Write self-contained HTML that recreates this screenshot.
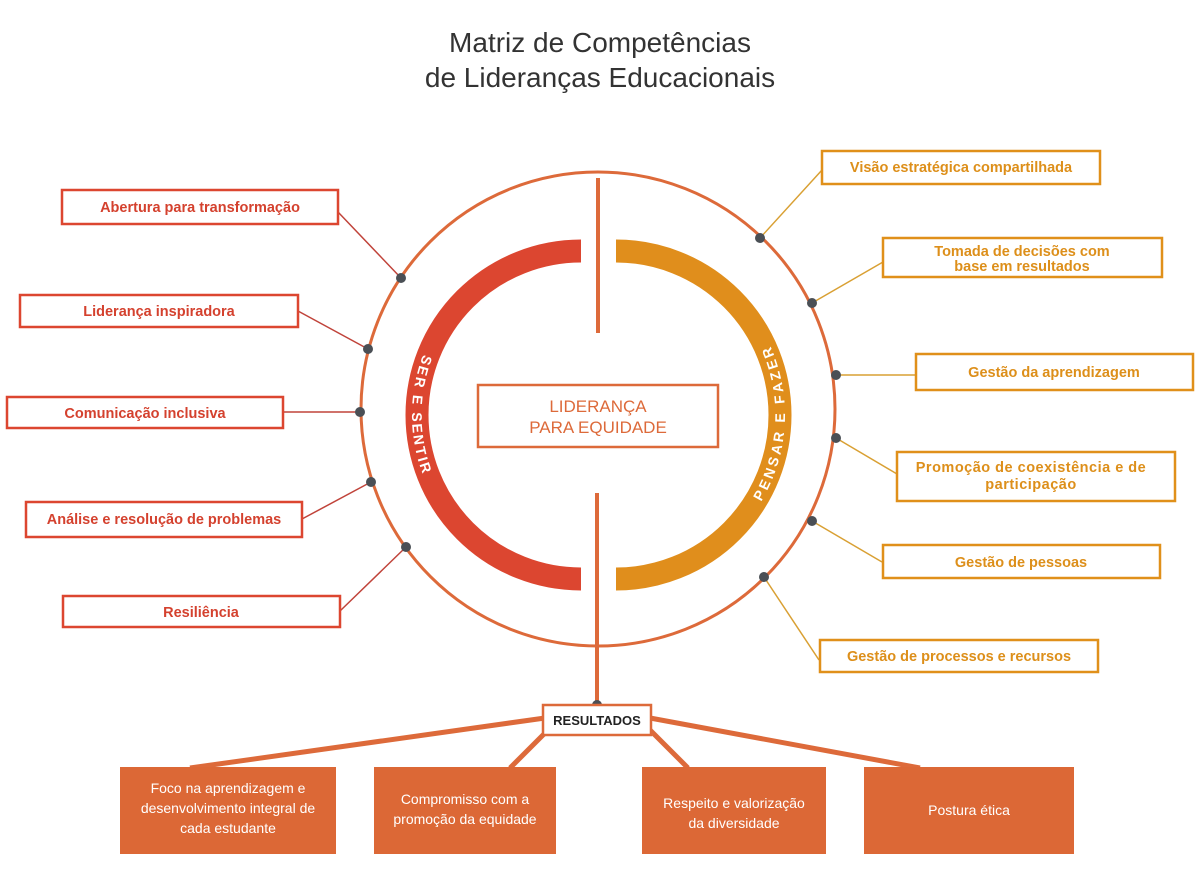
<!DOCTYPE html>
<html><head><meta charset="utf-8"><style>
html,body{margin:0;padding:0;background:#fff;}
svg{display:block;}
text{font-family:"Liberation Sans",sans-serif;}
</style></head><body>
<svg width="1200" height="875" viewBox="0 0 1200 875" xmlns="http://www.w3.org/2000/svg">
<text x="600" y="52" text-anchor="middle" font-size="28" fill="#333">Matriz de Competências</text>
<text x="600" y="87" text-anchor="middle" font-size="28" fill="#333">de Lideranças Educacionais</text>

<circle cx="598" cy="409" r="237" fill="none" stroke="#dd6a3a" stroke-width="3"/>
<line x1="598" y1="178" x2="598" y2="333" stroke="#dd6a3a" stroke-width="4"/>
<line x1="597" y1="493" x2="597" y2="705" stroke="#dd6a3a" stroke-width="4"/>

<!-- arcs -->
<path d="M581 251 A164 164 0 0 0 581 579" fill="none" stroke="#dc4630" stroke-width="23"/>
<path d="M616 251 A164 164 0 0 1 616 579" fill="none" stroke="#e08e1c" stroke-width="23"/>
<g font-size="14" font-weight="bold" fill="#fff" text-anchor="middle">
<text transform="translate(426.4,360.3) rotate(109.5)" y="5">S</text>
<text transform="translate(423.0,370.9) rotate(105.6)" y="5">E</text>
<text transform="translate(420.3,382.3) rotate(101.5)" y="5">R</text>
<text transform="translate(417.7,399.8) rotate(95.3)" y="5">E</text>
<text transform="translate(417.0,417.0) rotate(89.3)" y="5">S</text>
<text transform="translate(417.5,428.2) rotate(85.4)" y="5">E</text>
<text transform="translate(418.9,439.8) rotate(81.3)" y="5">N</text>
<text transform="translate(421.0,451.0) rotate(77.3)" y="5">T</text>
<text transform="translate(423.0,459.1) rotate(74.4)" y="5">I</text>
<text transform="translate(425.7,467.6) rotate(71.3)" y="5">R</text>

<text transform="translate(759.0,495.3) rotate(-60.7)" y="5">P</text>
<text transform="translate(764.5,484.6) rotate(-64.9)" y="5">E</text>
<text transform="translate(769.3,473.2) rotate(-69.2)" y="5">N</text>
<text transform="translate(773.2,461.6) rotate(-73.5)" y="5">S</text>
<text transform="translate(776.4,449.4) rotate(-77.9)" y="5">A</text>
<text transform="translate(778.5,437.0) rotate(-82.3)" y="5">R</text>
<text transform="translate(780.0,417.9) rotate(-89)" y="5">E</text>
<text transform="translate(779.3,399.6) rotate(-95.4)" y="5">F</text>
<text transform="translate(777.7,387.6) rotate(-99.6)" y="5">A</text>
<text transform="translate(775.3,375.9) rotate(-103.8)" y="5">Z</text>
<text transform="translate(772.1,364.6) rotate(-107.9)" y="5">E</text>
<text transform="translate(767.8,353.0) rotate(-112.2)" y="5">R</text>
</g>

<rect x="478" y="385" width="240" height="62" fill="#fff" stroke="#dd6a3a" stroke-width="2.5"/>
<text x="598" y="412" text-anchor="middle" font-size="17" fill="#dd6a3a">LIDERANÇA</text>
<text x="598" y="433" text-anchor="middle" font-size="17" fill="#dd6a3a">PARA EQUIDADE</text>

<!-- left connectors -->
<g stroke="#c0433a" stroke-width="1.5">
<line x1="338" y1="212" x2="401" y2="278"/>
<line x1="298" y1="311" x2="368" y2="349"/>
<line x1="283" y1="412" x2="360" y2="412"/>
<line x1="302" y1="519" x2="371" y2="482"/>
<line x1="340" y1="611" x2="406" y2="547"/>
</g>
<g stroke="#d9a033" stroke-width="1.5">
<line x1="822" y1="170" x2="760" y2="238"/>
<line x1="883" y1="262" x2="812" y2="303"/>
<line x1="916" y1="375" x2="836" y2="375"/>
<line x1="897" y1="474" x2="836" y2="438"/>
<line x1="882" y1="562" x2="812" y2="521"/>
<line x1="819" y1="660" x2="764" y2="577"/>
</g>
<g fill="#4a4f55">
<circle cx="401" cy="278" r="5"/><circle cx="368" cy="349" r="5"/><circle cx="360" cy="412" r="5"/><circle cx="371" cy="482" r="5"/><circle cx="406" cy="547" r="5"/>
<circle cx="760" cy="238" r="5"/><circle cx="812" cy="303" r="5"/><circle cx="836" cy="375" r="5"/><circle cx="836" cy="438" r="5"/><circle cx="812" cy="521" r="5"/><circle cx="764" cy="577" r="5"/>
<circle cx="597" cy="705" r="5"/>
</g>

<!-- left boxes -->
<g fill="#fff" stroke="#dc4630" stroke-width="2.5">
<rect x="62" y="190" width="276" height="34"/>
<rect x="20" y="295" width="278" height="32"/>
<rect x="7" y="397" width="276" height="31"/>
<rect x="26" y="502" width="276" height="35"/>
<rect x="63" y="596" width="277" height="31"/>
</g>
<g fill="#d4412e" font-size="14.5" font-weight="bold" text-anchor="middle">
<text x="200" y="212">Abertura para transformação</text>
<text x="159" y="316">Liderança inspiradora</text>
<text x="145" y="418">Comunicação inclusiva</text>
<text x="164" y="524">Análise e resolução de problemas</text>
<text x="201" y="617">Resiliência</text>
</g>

<!-- right boxes -->
<g fill="#fff" stroke="#e0901a" stroke-width="2.5">
<rect x="822" y="151" width="278" height="33"/>
<rect x="883" y="238" width="279" height="39"/>
<rect x="916" y="354" width="277" height="36"/>
<rect x="897" y="452" width="278" height="49"/>
<rect x="883" y="545" width="277" height="33"/>
<rect x="820" y="640" width="278" height="32"/>
</g>
<g fill="#dd8f1a" font-size="14.5" font-weight="bold" text-anchor="middle">
<text x="961" y="172">Visão estratégica compartilhada</text>
<text x="1022" y="256">Tomada de decisões com</text>
<text x="1022" y="271">base em resultados</text>
<text x="1054" y="377">Gestão da aprendizagem</text>
<text x="1031" y="472" letter-spacing="0.5">Promoção de coexistência e de</text>
<text x="1031" y="489" letter-spacing="0.5">participação</text>
<text x="1021" y="567">Gestão de pessoas</text>
<text x="959" y="661">Gestão de processos e recursos</text>
</g>

<!-- results -->
<g stroke="#dd6a3a" stroke-width="5">
<line x1="545" y1="718" x2="190" y2="768"/>
<line x1="548" y1="730" x2="510" y2="768"/>
<line x1="650" y1="730" x2="688" y2="768"/>
<line x1="650" y1="718" x2="920" y2="768"/>
</g>
<rect x="543" y="705" width="108" height="30" fill="#fff" stroke="#dd6a3a" stroke-width="2.5"/>
<text x="597" y="725" text-anchor="middle" font-size="13" font-weight="bold" fill="#222">RESULTADOS</text>

<g fill="#dc6836">
<rect x="120" y="767" width="216" height="87"/>
<rect x="374" y="767" width="182" height="87"/>
<rect x="642" y="767" width="184" height="87"/>
<rect x="864" y="767" width="210" height="87"/>
</g>
<g fill="#fff" font-size="14" text-anchor="middle">
<text x="228" y="793">Foco na aprendizagem e</text>
<text x="228" y="813">desenvolvimento integral de</text>
<text x="228" y="833">cada estudante</text>
<text x="465" y="804">Compromisso com a</text>
<text x="465" y="824">promoção da equidade</text>
<text x="734" y="808">Respeito e valorização</text>
<text x="734" y="828">da diversidade</text>
<text x="969" y="815">Postura ética</text>
</g>
</svg>
</body></html>
